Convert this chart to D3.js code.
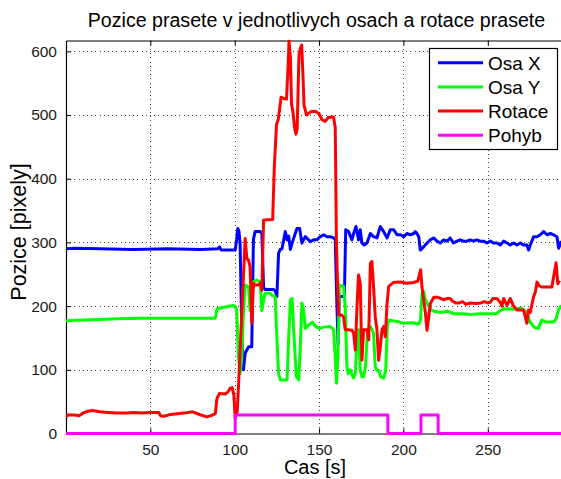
<!DOCTYPE html>
<html>
<head>
<meta charset="utf-8">
<script src="https://cdn.jsdelivr.net/npm/d3@7"></script>
<style>
  body { margin: 0; background: #fff; }
  svg { display: block; font-family: "Liberation Sans", Arial, Helvetica, sans-serif; }
</style>
</head>
<body>
<svg id="chart" width="561" height="479"></svg>
<script>
// Measured pig position along each axis, its rotation and the motion flag, over time [s]
const casX = [0, 5, 20, 40, 60, 80, 90, 91, 92, 94.3, 100.3, 101.2, 101.8, 102.5, 103.2, 104.2, 105.2, 106.2, 107.2, 108.2, 110.1, 111.1, 112.1, 115.1, 116.1, 117.1, 118, 123, 124, 125, 126, 127, 128, 130, 131, 132, 133, 134, 135.9, 136.9, 138.5, 139.8, 141.8, 143.8, 144.8, 146.7, 148.7, 150.7, 152.7, 154.7, 156.6, 158.6, 159.6, 160.6, 161.3, 162, 165, 165.8, 167.5, 169.5, 170.5, 171.9, 173.4, 174.4, 175.4, 176.8, 178.4, 180.4, 182.3, 184.3, 186.3, 188.3, 190.3, 192.2, 194.2, 196.2, 198.2, 200.2, 202.2, 204.1, 206.1, 207, 208, 209.1, 210, 212, 214, 215.9, 217.9, 219.9, 221.8, 223.8, 225.8, 227.7, 229.7, 231.7, 233.7, 235.6, 237.6, 239.6, 241.6, 243.5, 245.5, 247.5, 249.5, 251.5, 253.4, 255.4, 257.4, 259.4, 261.4, 263.3, 265.3, 267.3, 269.3, 271.2, 273.2, 274.2, 275.2, 277.2, 279.2, 281.1, 283.1, 285.1, 287.1, 289, 291, 292, 293.6];
const osaX = [290, 291, 290, 289, 290, 289, 290, 293, 288, 288, 288, 305, 322, 318, 299, 160, 100, 126, 131, 136, 136, 305, 317, 317, 314, 230, 226, 226, 224, 215, 283, 289, 290, 317, 304, 310, 289, 299, 314, 322, 322, 299, 309, 304, 301, 304, 304, 309, 312, 309, 309, 307, 304, 200, 140, 215, 215, 320, 317, 304, 314, 325, 304, 320, 299, 296, 299, 314, 309, 307, 325, 317, 307, 320, 320, 312, 312, 309, 314, 312, 314, 317, 314, 309, 288, 293, 299, 304, 307, 302, 299, 304, 302, 307, 299, 302, 304, 302, 302, 304, 302, 304, 302, 302, 299, 302, 299, 299, 296, 302, 299, 296, 299, 296, 299, 296, 296, 288, 296, 309, 309, 312, 317, 312, 314, 312, 309, 291, 302];

const casY = [0, 10, 20, 30, 45, 60, 75, 88.5, 89.5, 95, 99, 100.3, 101.2, 102.2, 103.2, 104.2, 105.2, 106.2, 108.2, 109.1, 110.1, 111.1, 113, 115.1, 116.1, 117.1, 118, 121, 122, 124, 125, 126, 127, 131, 132, 133, 134, 135, 136.5, 137.9, 138.8, 139.8, 140.8, 141.8, 143.8, 146, 148, 150, 153, 156.6, 158.6, 159.6, 160.3, 161.2, 162, 164.5, 165.5, 166.5, 167.3, 168.5, 169.5, 170.5, 171.5, 172.5, 173.4, 174.4, 175.4, 176.4, 177.5, 178.4, 179.5, 180.4, 182.3, 183.3, 184.3, 185.5, 186.5, 188.3, 189.5, 190.5, 191.5, 196, 200, 205, 209, 210.1, 211, 212, 213, 214, 216, 218, 222, 226, 230, 235, 240, 245, 250, 255, 257.4, 260, 265, 270, 273, 275, 278, 280, 282, 285, 289, 290.5, 292, 293.6];
const osaY = [177, 178, 179, 180, 181, 181, 181, 181, 196, 199, 201, 199, 193, 120, 94, 120, 190, 233, 230, 193, 209, 238, 241, 238, 193, 209, 220, 220, 217, 215, 150, 95, 84, 84, 150, 210, 212, 160, 90, 84, 130, 205, 195, 165, 170, 175, 168, 165, 167, 168, 163, 120, 79, 120, 233, 231, 200, 105, 94, 100, 92, 87, 94, 152, 163, 100, 89, 89, 105, 147, 168, 168, 157, 105, 99, 99, 89, 87, 99, 170, 178, 176, 173, 174, 172, 178, 220, 223, 210, 205, 195, 192, 190, 192, 188, 188, 187, 188, 188, 188, 193, 196, 195, 197, 190, 175, 166, 165, 178, 175, 175, 180, 195, 201];

const casR = [0, 1, 5, 8, 10, 13, 16, 20, 25, 30, 36, 40, 45, 50, 55, 56, 58, 62, 66, 70, 75, 78, 80, 83.5, 86, 88.5, 89.5, 91, 94.3, 96, 97.3, 98.5, 99.5, 100.3, 101.5, 102.2, 104.2, 106.2, 107.2, 108.2, 109.1, 110.1, 111.1, 112.1, 114.1, 115.1, 116.1, 117.1, 122.5, 123.5, 124.8, 125.8, 127.5, 129, 130.7, 131.7, 132.2, 133, 133.7, 134.5, 135.5, 136.3, 137, 138.1, 139, 139.7, 140.5, 141.1, 142.6, 145, 147.6, 150, 151.6, 153.6, 155.5, 158.6, 159.6, 160.3, 161, 161.6, 163.5, 164.5, 165.5, 167.3, 169.5, 170.5, 171.5, 172.5, 173.4, 174.4, 175.4, 176.4, 178.4, 179.4, 180.4, 181.3, 182.3, 183.3, 184.3, 185.3, 186.3, 187.3, 188.3, 189.3, 190.3, 191.3, 194, 198, 202, 206, 208.5, 209.5, 210.2, 211, 212, 213, 214, 215, 216, 218, 220, 222, 224, 226, 227.7, 229, 231, 233, 235, 237, 240, 243, 246, 248, 250, 251.5, 253, 255.4, 257.4, 258.4, 259.4, 261.4, 263.3, 265.3, 267.3, 269.3, 271.2, 273.2, 274.2, 275.2, 276.2, 277.2, 278.2, 279.2, 280.5, 282, 284, 288, 290.5, 291.5, 292.5, 293.6];
const rotace = [26, 29, 29, 28, 32, 35, 36, 34, 33, 32, 32, 33, 32, 33, 33, 28, 27, 30, 31, 32, 34, 31, 29, 26, 28, 31, 55, 63, 62, 65, 71, 72, 60, 24, 35, 72, 190, 306, 275, 272, 262, 173, 236, 233, 233, 236, 225, 335, 336, 420, 485, 493, 528, 526, 525, 580, 616, 590, 517, 505, 480, 470, 478, 595, 605, 610, 560, 515, 500, 505, 506, 502, 493, 490, 496, 497, 480, 300, 230, 186, 186, 183, 163, 163, 162, 157, 131, 200, 249, 236, 115, 163, 163, 147, 267, 270, 231, 183, 163, 115, 136, 163, 168, 152, 204, 231, 237, 238, 236, 237, 239, 250, 257, 230, 210, 190, 162, 183, 204, 214, 214, 212, 210, 212, 212, 208, 205, 205, 207, 203, 205, 204, 205, 207, 205, 206, 212, 212, 206, 200, 212, 201, 212, 200, 194, 194, 194, 173, 194, 190, 203, 215, 222, 238, 232, 230, 230, 230, 268, 235, 240];

const casP = [0, 100.3, 100.3, 190.8, 190.8, 210.4, 210.4, 220.6, 220.6, 294];
const pohyb = [0, 0, 29, 29, 0, 0, 29, 29, 0, 0];

const xTicks = [50, 100, 150, 200, 250];
const yTicks = [0, 100, 200, 300, 400, 500, 600];

const seriesNames = ["Osa X", "Osa Y", "Rotace", "Pohyb"];
const seriesColors = ["#0000ff", "#00ff00", "#ff0000", "#ff00ff"];

const titleText = "Pozice prasete v jednotlivych osach a rotace prasete";
const xLabelText = "Cas [s]";
const yLabelText = "Pozice [pixely]";

// ---- layout ----
const W = 561, H = 479;
const plot = { left: 66, right: 562, top: 40.5, bottom: 433.5 };

const svg = d3.select("#chart");
svg.append("rect").attr("width", W).attr("height", H).attr("fill", "#fff");

const x = d3.scaleLinear().domain([0, 294]).range([plot.left, plot.right]);
const y = d3.scaleLinear().domain([0, 617]).range([plot.bottom, plot.top]);

// dotted grid
const grid = svg.append("g").attr("stroke", "#444").attr("stroke-width", 1)
  .attr("stroke-dasharray", "1,3.2").attr("shape-rendering", "crispEdges");
grid.selectAll(".gx").data(xTicks).join("line")
  .attr("x1", d => Math.round(x(d)) + 0.5).attr("x2", d => Math.round(x(d)) + 0.5)
  .attr("y1", plot.top).attr("y2", plot.bottom);
grid.selectAll(".gy").data(yTicks.filter(d => d > 0)).join("line")
  .attr("y1", d => Math.round(y(d)) + 0.5).attr("y2", d => Math.round(y(d)) + 0.5)
  .attr("x1", plot.left).attr("x2", plot.right);

// axes with inward ticks
const axisFont = 15.5;
const xAxis = svg.append("g").attr("transform", `translate(0,${plot.bottom})`)
  .call(d3.axisBottom(x).tickValues(xTicks).tickSizeInner(-5).tickSizeOuter(0).tickPadding(10));
const xAxisTop = svg.append("g").attr("transform", `translate(0,${plot.top})`)
  .call(d3.axisTop(x).tickValues(xTicks).tickSizeInner(-5).tickSizeOuter(0).tickFormat(""));
const yAxis = svg.append("g").attr("transform", `translate(${plot.left},0)`)
  .call(d3.axisLeft(y).tickValues(yTicks).tickSizeInner(-5).tickSizeOuter(0).tickPadding(9));

[xAxis, xAxisTop, yAxis].forEach(g => {
  g.select(".domain").attr("stroke", "#000").attr("stroke-width", 1.2);
  g.selectAll(".tick line").attr("stroke", "#000").attr("stroke-width", 1);
  g.selectAll(".tick text").attr("fill", "#1a1a1a").attr("font-size", axisFont)
    .attr("font-family", '"Liberation Sans", Arial, sans-serif');
});

// data lines
svg.append("clipPath").attr("id", "plotclip").append("rect")
  .attr("x", plot.left).attr("y", plot.top - 2)
  .attr("width", plot.right - plot.left).attr("height", plot.bottom - plot.top + 4);

const series = [
  { t: casX, v: osaX },
  { t: casY, v: osaY },
  { t: casR, v: rotace },
  { t: casP, v: pohyb }
];
const line = d3.line().x(d => x(d[0])).y(d => y(d[1]));
const lines = svg.append("g").attr("clip-path", "url(#plotclip)");
series.forEach((s, i) => {
  const pts = s.t.map((t, k) => [t, s.v[k]]);
  lines.append("path").datum(pts)
    .attr("d", line)
    .attr("fill", "none")
    .attr("stroke", seriesColors[i])
    .attr("stroke-width", 3)
    .attr("stroke-linejoin", "round")
    .attr("stroke-linecap", "butt");
});

// titles
svg.append("text").attr("x", 316.5).attr("y", 27).attr("text-anchor", "middle")
  .attr("font-size", 19.6).attr("fill", "#000").text(titleText);
svg.append("text").attr("x", 315).attr("y", 474).attr("text-anchor", "middle")
  .attr("font-size", 20).attr("fill", "#000").text(xLabelText);
svg.append("text").attr("transform", "translate(26,232) rotate(-90)")
  .attr("text-anchor", "middle").attr("font-size", 21.5).attr("fill", "#000").text(yLabelText);

// legend
const legend = svg.append("g");
legend.append("rect").attr("x", 429.5).attr("y", 48.5).attr("width", 128).attr("height", 101)
  .attr("fill", "#fff").attr("stroke", "#000").attr("stroke-width", 1.2);
seriesNames.forEach((name, i) => {
  const cy = 62.7 + i * 24.2;
  legend.append("line").attr("x1", 438).attr("x2", 483).attr("y1", cy).attr("y2", cy)
    .attr("stroke", seriesColors[i]).attr("stroke-width", 3);
  legend.append("text").attr("x", 488).attr("y", cy).attr("dy", "0.36em")
    .attr("font-size", 19).attr("fill", "#000").text(name);
});
</script>
</body>
</html>
